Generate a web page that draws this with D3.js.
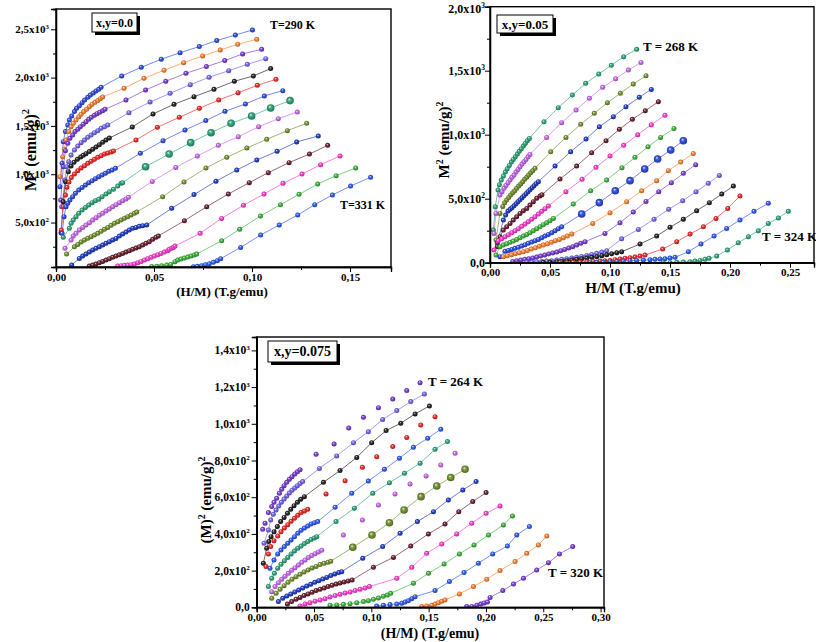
<!DOCTYPE html>
<html><head><meta charset="utf-8">
<script src="https://cdn.jsdelivr.net/npm/d3@7"></script>
<style>
body{margin:0;background:#fff}
text{font-family:"Liberation Serif","Times New Roman",serif;font-weight:bold;fill:#000}
</style></head>
<body><svg id="c" width="816" height="642"></svg>
<script>
// ---------------- Panel 1 : x,y = 0.0 ----------------
const P1_XTICKS=[0,0.05,0.10,0.15];
const P1_XLABELS=["0,00","0,05","0,10","0,15"];
const P1_YTICKS=[500,1000,1500,2000,2500];
const P1_YLABELS=["5,0x10^2","1,0x10^3","1,5x10^3","2,0x10^3","2,5x10^3"];
const p1_290=[[0.0020,871],[0.0031,1113],[0.0037,1337],[0.0048,1441],[0.0060,1510],[0.0068,1561],[0.0080,1603],[0.0094,1648],[0.0105,1682],[0.0119,1710],[0.0133,1741],[0.0146,1768],[0.0162,1796],[0.0175,1820],[0.0190,1841],[0.0204,1862],[0.0218,1879],[0.0230,1900],[0.0335,2017],[0.0435,2107],[0.0537,2190],[0.0633,2258],[0.0731,2321],[0.0820,2383],[0.0915,2441],[0.1002,2493]];
const p1_b=[[0.0020,975],[0.0034,1182],[0.0043,1258],[0.0051,1354],[0.0065,1441],[0.0077,1492],[0.0088,1527],[0.0102,1561],[0.0116,1596],[0.0128,1620],[0.0141,1648],[0.0156,1672],[0.0170,1699],[0.0184,1724],[0.0199,1744],[0.0213,1762],[0.0226,1782],[0.0238,1800],[0.0347,1889],[0.0449,1993],[0.0551,2076],[0.0651,2155],[0.0748,2224],[0.0838,2286],[0.0927,2345],[0.1024,2396]];
const p1_c=[[0.0024,733],[0.0037,1078],[0.0048,1244],[0.0060,1320],[0.0071,1372],[0.0085,1406],[0.0097,1441],[0.0111,1465],[0.0124,1492],[0.0139,1517],[0.0153,1544],[0.0167,1568],[0.0180,1589],[0.0196,1610],[0.0209,1627],[0.0223,1641],[0.0238,1658],[0.0250,1672],[0.0357,1768],[0.0457,1872],[0.0560,1962],[0.0663,2045],[0.0767,2114],[0.0861,2176],[0.0952,2245],[0.1049,2293]];
const p1_d=[[0.0029,664],[0.0046,940],[0.0054,1078],[0.0065,1130],[0.0077,1199],[0.0094,1251],[0.0111,1292],[0.0128,1327],[0.0145,1354],[0.0162,1382],[0.0179,1406],[0.0196,1430],[0.0213,1451],[0.0230,1475],[0.0247,1492],[0.0264,1510],[0.0372,1637],[0.0480,1748],[0.0582,1837],[0.0685,1927],[0.0781,2003],[0.0881,2072],[0.0976,2138],[0.1070,2196]];
const p1_e=[[0.0026,395],[0.0037,716],[0.0049,923],[0.0063,1027],[0.0077,1085],[0.0092,1123],[0.0109,1154],[0.0126,1178],[0.0139,1196],[0.0153,1213],[0.0170,1234],[0.0187,1258],[0.0204,1282],[0.0221,1306],[0.0238,1330],[0.0255,1354],[0.0272,1375],[0.0389,1489],[0.0495,1624],[0.0602,1724],[0.0704,1803],[0.0806,1879],[0.0910,1962],[0.1007,2017],[0.1095,2093]];
const p1_f=[[0.0027,423],[0.0037,664],[0.0048,785],[0.0056,865],[0.0066,920],[0.0078,965],[0.0094,1002],[0.0111,1037],[0.0128,1065],[0.0145,1089],[0.0162,1113],[0.0179,1134],[0.0196,1154],[0.0213,1175],[0.0230,1192],[0.0247,1210],[0.0264,1220],[0.0281,1230],[0.0293,1241],[0.0408,1354],[0.0517,1486],[0.0629,1589],[0.0731,1682],[0.0830,1768],[0.0929,1844],[0.1027,1920],[0.1122,1982]];
const p1_g=[[0.0031,388],[0.0041,561],[0.0051,664],[0.0060,699],[0.0071,733],[0.0085,768],[0.0099,802],[0.0116,837],[0.0133,864],[0.0150,889],[0.0167,913],[0.0184,933],[0.0201,954],[0.0218,975],[0.0235,992],[0.0252,1009],[0.0269,1030],[0.0286,1044],[0.0303,1061],[0.0430,1216],[0.0546,1347],[0.0658,1458],[0.0764,1555],[0.0862,1651],[0.0966,1727],[0.1063,1810],[0.1157,1865]];
const p1_h=[[0.0037,347],[0.0068,440],[0.0077,492],[0.0088,526],[0.0102,561],[0.0116,595],[0.0133,630],[0.0150,657],[0.0167,682],[0.0184,706],[0.0201,726],[0.0218,740],[0.0235,768],[0.0255,795],[0.0272,820],[0.0293,844],[0.0315,878],[0.0332,906],[0.0340,913],[0.0457,1078],[0.0577,1209],[0.0687,1327],[0.0791,1430],[0.0893,1527],[0.0998,1603],[0.1095,1686],[0.1194,1762]];
const p1_i=[[0.0046,233],[0.0077,319],[0.0088,361],[0.0102,388],[0.0119,423],[0.0136,450],[0.0153,475],[0.0170,499],[0.0187,526],[0.0204,550],[0.0221,575],[0.0238,595],[0.0255,619],[0.0272,640],[0.0289,664],[0.0306,685],[0.0323,706],[0.0340,726],[0.0357,744],[0.0369,761],[0.0491,926],[0.0611,1071],[0.0721,1189],[0.0828,1299],[0.0930,1389],[0.1034,1492],[0.1134,1575],[0.1231,1644]];
const p1_j=[[0.0054,174],[0.0094,250],[0.0111,274],[0.0128,299],[0.0145,319],[0.0162,337],[0.0179,354],[0.0196,371],[0.0213,388],[0.0230,409],[0.0247,430],[0.0264,450],[0.0281,471],[0.0298,492],[0.0315,509],[0.0332,526],[0.0349,544],[0.0366,561],[0.0383,578],[0.0400,595],[0.0412,609],[0.0544,768],[0.0653,920],[0.0765,1065],[0.0871,1175],[0.0974,1272],[0.1075,1361],[0.1180,1451],[0.1279,1527]];
const p1_k=[[0.0080,60],[0.0119,129],[0.0136,154],[0.0153,174],[0.0170,195],[0.0187,216],[0.0204,233],[0.0221,250],[0.0238,267],[0.0255,285],[0.0272,302],[0.0289,319],[0.0306,336],[0.0323,361],[0.0340,381],[0.0357,402],[0.0374,423],[0.0391,440],[0.0408,450],[0.0425,461],[0.0442,468],[0.0463,475],[0.0590,647],[0.0704,789],[0.0816,927],[0.0922,1044],[0.1024,1147],[0.1128,1237],[0.1228,1334],[0.1338,1396]];
const p1_l=[[0.0170,50],[0.0187,60],[0.0204,71],[0.0221,85],[0.0238,98],[0.0255,112],[0.0272,126],[0.0289,140],[0.0306,154],[0.0323,167],[0.0340,181],[0.0357,195],[0.0374,209],[0.0391,223],[0.0408,236],[0.0425,250],[0.0442,267],[0.0459,285],[0.0476,302],[0.0493,326],[0.0510,347],[0.0522,361],[0.0655,519],[0.0769,664],[0.0879,795],[0.0986,913],[0.1083,1016],[0.1189,1120],[0.1293,1209],[0.1386,1299]];
const p1_m=[[0.0315,50],[0.0332,53],[0.0349,57],[0.0366,60],[0.0383,64],[0.0400,71],[0.0417,85],[0.0434,98],[0.0451,112],[0.0468,126],[0.0485,140],[0.0502,154],[0.0519,167],[0.0536,181],[0.0553,195],[0.0570,209],[0.0578,223],[0.0590,233],[0.0599,243],[0.0607,257],[0.0735,388],[0.0845,543],[0.0956,678],[0.1061,795],[0.1158,906],[0.1255,1002],[0.1350,1099],[0.1449,1189]];
const p1_n=[[0.0488,45],[0.0514,47],[0.0539,53],[0.0565,60],[0.0585,67],[0.0607,95],[0.0621,112],[0.0638,122],[0.0655,133],[0.0672,143],[0.0689,154],[0.0706,164],[0.0718,174],[0.0845,312],[0.0937,430],[0.1043,568],[0.1145,685],[0.1240,792],[0.1335,899],[0.1429,985],[0.1529,1065]];
const p1_331=[[0.0701,43],[0.0721,47],[0.0742,53],[0.0762,64],[0.0782,74],[0.0803,88],[0.0823,105],[0.0840,126],[0.0942,243],[0.1044,371],[0.1139,475],[0.1233,578],[0.1320,685],[0.1410,785],[0.1503,878],[0.1605,968]];

// ---------------- Panel 2 : x,y = 0.05 ----------------
const P2_XTICKS=[0,0.05,0.10,0.15,0.20,0.25];
const P2_XLABELS=["0,00","0,05","0,10","0,15","0,20","0,25"];
const P2_YTICKS=[0,500,1000,1500,2000];
const P2_YLABELS=["0,0","5,0x10^2","1,0x10^3","1,5x10^3","2,0x10^3"];
const p2_268=[[0.0028,255],[0.0044,437],[0.0067,568],[0.0078,609],[0.0094,646],[0.0111,677],[0.0128,708],[0.0144,734],[0.0161,760],[0.0178,786],[0.0194,807],[0.0211,828],[0.0228,849],[0.0244,870],[0.0261,891],[0.0278,911],[0.0294,932],[0.0311,953],[0.0328,971],[0.0450,1101],[0.0569,1211],[0.0686,1310],[0.0797,1401],[0.0906,1474],[0.1011,1542],[0.1114,1609],[0.1222,1667]];
const p2_b=[[0.0033,229],[0.0050,385],[0.0083,529],[0.0100,555],[0.0117,581],[0.0133,604],[0.0150,625],[0.0167,646],[0.0183,667],[0.0200,685],[0.0217,708],[0.0233,729],[0.0250,750],[0.0267,771],[0.0283,789],[0.0300,807],[0.0317,828],[0.0333,846],[0.0472,979],[0.0597,1094],[0.0717,1193],[0.0828,1284],[0.0939,1370],[0.1047,1437],[0.1153,1505],[0.1258,1565]];
const p2_c=[[0.0050,177],[0.0083,385],[0.0106,440],[0.0122,468],[0.0139,490],[0.0156,510],[0.0172,529],[0.0189,547],[0.0206,562],[0.0222,581],[0.0239,599],[0.0256,615],[0.0272,633],[0.0289,651],[0.0306,667],[0.0322,685],[0.0339,703],[0.0356,719],[0.0375,737],[0.0506,867],[0.0633,979],[0.0756,1081],[0.0869,1167],[0.0978,1250],[0.1086,1323],[0.1194,1396],[0.1300,1461]];
const p2_d=[[0.0061,151],[0.0111,333],[0.0130,372],[0.0150,404],[0.0167,417],[0.0183,430],[0.0200,445],[0.0217,461],[0.0233,477],[0.0250,492],[0.0267,508],[0.0283,523],[0.0300,539],[0.0317,555],[0.0333,570],[0.0350,586],[0.0367,602],[0.0383,617],[0.0403,633],[0.0542,755],[0.0672,867],[0.0800,966],[0.0911,1062],[0.1028,1141],[0.1133,1219],[0.1244,1292],[0.1344,1354]];
const p2_e=[[0.0061,125],[0.0083,203],[0.0111,255],[0.0139,281],[0.0167,307],[0.0194,333],[0.0222,359],[0.0250,385],[0.0278,406],[0.0306,424],[0.0333,450],[0.0361,477],[0.0389,503],[0.0417,521],[0.0433,531],[0.0583,654],[0.0722,755],[0.0847,859],[0.0967,953],[0.1078,1042],[0.1186,1120],[0.1294,1187],[0.1403,1258]];
const p2_f=[[0.0033,99],[0.0069,172],[0.0097,187],[0.0125,203],[0.0153,219],[0.0181,234],[0.0208,250],[0.0236,266],[0.0264,284],[0.0292,302],[0.0319,320],[0.0347,339],[0.0375,359],[0.0403,380],[0.0431,401],[0.0458,422],[0.0486,443],[0.0633,555],[0.0767,651],[0.0883,745],[0.1000,833],[0.1114,917],[0.1231,1000],[0.1344,1078],[0.1458,1151]];
const p2_g=[[0.0050,60],[0.0083,125],[0.0111,138],[0.0139,148],[0.0167,159],[0.0194,169],[0.0222,182],[0.0250,195],[0.0278,208],[0.0306,221],[0.0333,234],[0.0361,250],[0.0389,266],[0.0417,281],[0.0444,297],[0.0472,312],[0.0500,328],[0.0528,346],[0.0694,458],[0.0839,562],[0.0972,646],[0.1100,742],[0.1208,823],[0.1317,906],[0.1422,979],[0.1533,1049]];
const p2_h=[[0.0083,47],[0.0125,89],[0.0153,96],[0.0181,104],[0.0208,112],[0.0236,120],[0.0264,130],[0.0292,141],[0.0319,151],[0.0347,161],[0.0375,172],[0.0403,182],[0.0431,195],[0.0458,208],[0.0486,221],[0.0514,234],[0.0542,250],[0.0569,266],[0.0597,281],[0.0764,380],[0.0911,469],[0.1044,562],[0.1167,641],[0.1289,732],[0.1397,810],[0.1506,880],[0.1611,953]];
const p2_i=[[0.0111,47],[0.0144,55],[0.0178,62],[0.0211,70],[0.0244,78],[0.0278,86],[0.0311,96],[0.0344,107],[0.0378,117],[0.0411,128],[0.0444,138],[0.0478,148],[0.0511,159],[0.0544,172],[0.0578,182],[0.0611,195],[0.0644,208],[0.0681,224],[0.0856,307],[0.1000,391],[0.1139,477],[0.1264,562],[0.1389,641],[0.1486,719],[0.1589,786],[0.1694,854]];
const p2_j=[[0.0189,10],[0.0222,16],[0.0256,21],[0.0289,26],[0.0322,31],[0.0356,36],[0.0389,44],[0.0422,52],[0.0456,60],[0.0489,68],[0.0522,76],[0.0556,83],[0.0589,94],[0.0622,104],[0.0656,115],[0.0689,125],[0.0722,138],[0.0756,151],[0.0792,164],[0.0958,229],[0.1083,312],[0.1194,396],[0.1300,479],[0.1406,555],[0.1511,625],[0.1611,698],[0.1714,766]];
const p2_k=[[0.0306,3],[0.0347,5],[0.0389,8],[0.0431,10],[0.0472,13],[0.0514,16],[0.0556,21],[0.0597,26],[0.0639,31],[0.0681,36],[0.0722,42],[0.0764,49],[0.0806,57],[0.0847,65],[0.0889,73],[0.0931,83],[0.0972,94],[0.1097,187],[0.1236,260],[0.1367,339],[0.1489,417],[0.1606,484],[0.1717,555],[0.1819,620],[0.1911,682]];
const p2_l=[[0.0444,3],[0.0500,5],[0.0556,8],[0.0597,10],[0.0639,16],[0.0681,21],[0.0722,26],[0.0764,31],[0.0806,36],[0.0847,42],[0.0889,47],[0.0931,55],[0.0972,62],[0.1014,70],[0.1056,78],[0.1097,86],[0.1250,146],[0.1389,208],[0.1500,276],[0.1611,339],[0.1722,406],[0.1828,469],[0.1931,536],[0.2028,599]];
const p2_m=[[0.0583,0],[0.0639,0],[0.0694,3],[0.0750,5],[0.0806,8],[0.0861,10],[0.0917,13],[0.0958,16],[0.1000,18],[0.1042,23],[0.1083,29],[0.1125,34],[0.1167,39],[0.1208,44],[0.1250,52],[0.1292,60],[0.1439,107],[0.1556,164],[0.1667,224],[0.1778,281],[0.1883,346],[0.1981,424],[0.2083,521]];
const p2_n=[[0.0833,0],[0.0889,3],[0.0944,5],[0.1000,8],[0.1056,10],[0.1111,13],[0.1167,16],[0.1222,18],[0.1278,21],[0.1333,23],[0.1375,26],[0.1417,29],[0.1458,31],[0.1500,36],[0.1542,42],[0.1653,86],[0.1758,146],[0.1867,208],[0.1972,268],[0.2083,333],[0.2200,401],[0.2319,464]];
const p2_324=[[0.1444,0],[0.1500,0],[0.1556,3],[0.1611,5],[0.1667,8],[0.1708,13],[0.1750,18],[0.1792,26],[0.1825,34],[0.1889,52],[0.1978,99],[0.2069,156],[0.2153,203],[0.2236,250],[0.2319,307],[0.2403,349],[0.2486,401]];

// ---------------- Panel 3 : x,y = 0.075 ----------------
const P3_XTICKS=[0,0.05,0.10,0.15,0.20,0.25,0.30];
const P3_XLABELS=["0,00","0,05","0,10","0,15","0,20","0,25","0,30"];
const P3_YTICKS=[0,200,400,600,800,1000,1200,1400];
const P3_YLABELS=["0,0","2,0x10^2","4,0x10^2","6,0x10^2","8,0x10^2","1,0x10^3","1,2x10^3","1,4x10^3"];
const p3_264=[[0.0052,425],[0.0073,458],[0.0102,516],[0.0131,549],[0.0151,572],[0.0174,594],[0.0198,621],[0.0218,643],[0.0239,663],[0.0262,681],[0.0285,698],[0.0308,712],[0.0332,727],[0.0355,739],[0.0378,750],[0.0518,834],[0.0675,890],[0.0803,977],[0.0931,1035],[0.1062,1088],[0.1187,1135],[0.1309,1181],[0.1425,1224]];
const p3_b=[[0.0064,349],[0.0102,421],[0.0122,476],[0.0145,507],[0.0169,530],[0.0192,552],[0.0215,572],[0.0239,590],[0.0262,607],[0.0285,623],[0.0308,638],[0.0332,650],[0.0355,663],[0.0378,674],[0.0401,685],[0.0547,757],[0.0698,825],[0.0844,897],[0.0974,957],[0.1099,1024],[0.1222,1072],[0.1344,1121],[0.1463,1163]];
const p3_c=[[0.0058,240],[0.0087,322],[0.0105,358],[0.0125,385],[0.0151,412],[0.0180,440],[0.0209,467],[0.0239,490],[0.0268,512],[0.0297,534],[0.0326,554],[0.0355,572],[0.0384,589],[0.0416,603],[0.0582,681],[0.0727,745],[0.0873,817],[0.1003,897],[0.1129,963],[0.1257,1003],[0.1382,1054],[0.1507,1097]];
const p3_d=[[0.0081,222],[0.0102,291],[0.0122,331],[0.0151,363],[0.0183,389],[0.0212,412],[0.0241,432],[0.0271,450],[0.0300,469],[0.0329,485],[0.0358,501],[0.0387,516],[0.0416,525],[0.0445,534],[0.0605,618],[0.0771,690],[0.0922,763],[0.1047,821],[0.1187,876],[0.1309,926],[0.1431,994],[0.1556,1039]];
const p3_e=[[0.0116,213],[0.0151,258],[0.0183,291],[0.0212,312],[0.0241,331],[0.0271,349],[0.0300,367],[0.0329,385],[0.0358,403],[0.0387,420],[0.0416,432],[0.0445,443],[0.0474,454],[0.0503,461],[0.0532,467],[0.0684,545],[0.0829,621],[0.0974,688],[0.1114,752],[0.1245,812],[0.1367,872],[0.1492,921],[0.1606,970]];
const p3_f=[[0.0102,113],[0.0131,158],[0.0154,185],[0.0183,213],[0.0212,234],[0.0241,254],[0.0271,272],[0.0300,291],[0.0329,307],[0.0358,322],[0.0387,334],[0.0416,347],[0.0445,358],[0.0474,369],[0.0503,378],[0.0524,385],[0.0692,467],[0.0852,540],[0.1012,621],[0.1158,679],[0.1289,730],[0.1425,785],[0.1556,861],[0.1664,903]];
const p3_g=[[0.0131,85],[0.0160,113],[0.0189,134],[0.0218,153],[0.0247,169],[0.0276,185],[0.0305,202],[0.0334,216],[0.0364,231],[0.0393,245],[0.0422,258],[0.0451,271],[0.0480,282],[0.0509,292],[0.0538,302],[0.0567,311],[0.0756,394],[0.0922,476],[0.1062,558],[0.1207,618],[0.1338,672],[0.1478,716],[0.1606,776],[0.1731,839]];
const p3_h=[[0.0131,49],[0.0169,76],[0.0204,98],[0.0239,118],[0.0273,136],[0.0308,153],[0.0343,167],[0.0378,180],[0.0413,193],[0.0448,203],[0.0483,214],[0.0518,223],[0.0553,233],[0.0588,240],[0.0622,245],[0.0646,251],[0.0838,327],[0.1006,394],[0.1158,461],[0.1286,530],[0.1434,603],[0.1571,661],[0.1693,707],[0.1818,752]];
const p3_i=[[0.0189,31],[0.0227,49],[0.0262,62],[0.0297,73],[0.0332,84],[0.0366,94],[0.0401,105],[0.0436,116],[0.0471,125],[0.0506,136],[0.0541,145],[0.0576,154],[0.0611,163],[0.0646,173],[0.0681,182],[0.0716,189],[0.0742,194],[0.0925,267],[0.1099,331],[0.1251,403],[0.1402,467],[0.1542,521],[0.1672,585],[0.1798,639],[0.1914,685]];
const p3_j=[[0.0268,18],[0.0305,31],[0.0343,44],[0.0378,54],[0.0413,64],[0.0448,73],[0.0483,82],[0.0518,91],[0.0553,98],[0.0588,105],[0.0622,113],[0.0657,120],[0.0692,127],[0.0727,133],[0.0762,138],[0.0797,144],[0.0832,149],[0.1018,218],[0.1193,272],[0.1344,334],[0.1498,400],[0.1643,454],[0.1763,521],[0.1885,576],[0.2001,625]];
const p3_k=[[0.0378,7],[0.0422,18],[0.0465,25],[0.0509,33],[0.0553,40],[0.0596,47],[0.0640,56],[0.0684,64],[0.0727,71],[0.0771,78],[0.0815,84],[0.0858,91],[0.0902,98],[0.0945,105],[0.0983,113],[0.1222,158],[0.1353,218],[0.1483,294],[0.1614,345],[0.1745,400],[0.1876,458],[0.2001,512],[0.2123,552]];
const p3_l=[[0.0640,11],[0.0698,13],[0.0756,16],[0.0814,20],[0.0873,25],[0.0931,31],[0.0974,36],[0.1018,44],[0.1062,51],[0.1105,60],[0.1140,67],[0.1169,76],[0.1367,131],[0.1498,185],[0.1635,236],[0.1768,291],[0.1896,340],[0.2022,394],[0.2152,449],[0.2231,498]];
const p3_m=[[0.1047,7],[0.1105,11],[0.1163,15],[0.1222,18],[0.1265,22],[0.1294,29],[0.1323,36],[0.1353,47],[0.1382,58],[0.1556,91],[0.1681,140],[0.1809,189],[0.1934,240],[0.2059,291],[0.2187,334],[0.2269,394],[0.2379,440]];
const p3_n=[[0.1440,4],[0.1483,7],[0.1527,11],[0.1556,18],[0.1585,25],[0.1614,33],[0.1643,40],[0.1768,73],[0.1891,113],[0.2007,153],[0.2123,200],[0.2254,249],[0.2356,294],[0.2458,340],[0.2531,389]];
const p3_320=[[0.1832,4],[0.1876,5],[0.1920,11],[0.1955,18],[0.1984,24],[0.2013,29],[0.2036,54],[0.2147,91],[0.2240,127],[0.2327,158],[0.2443,203],[0.2545,243],[0.2641,291],[0.2757,331]];

// ---------------- drawing ----------------
const svg=d3.select("#c");
const defs=svg.append("defs");
const gradCache={};
function grad(c){
  if(gradCache[c])return gradCache[c];
  const id="g"+c.replace("#","");
  const g=defs.append("radialGradient").attr("id",id).attr("cx","50%").attr("cy","50%").attr("r","55%").attr("fx","38%").attr("fy","32%");
  g.append("stop").attr("offset","0%").attr("stop-color",d3.interpolateRgb(c,"#fff")(0.9));
  g.append("stop").attr("offset","35%").attr("stop-color",d3.interpolateRgb(c,"#fff")(0.15));
  g.append("stop").attr("offset","100%").attr("stop-color",d3.interpolateRgb(c,"#000")(0.3));
  gradCache[c]="url(#"+id+")";
  return gradCache[c];
}
function supText(sel,str,fs){
  const parts=str.split("^");
  sel.text(null);
  sel.append("tspan").text(parts[0]);
  if(parts[1]) sel.append("tspan").attr("font-size",fs*0.62).attr("dy",-fs*0.4).text(parts[1]);
}
function panel(o){
  const g=svg.append("g");
  const x=d3.scaleLinear().domain(o.xd).range([o.l,o.r]);
  const y=d3.scaleLinear().domain(o.yd).range([o.b,o.t]);
  const clipId="clip"+o.id;
  defs.append("clipPath").attr("id",clipId).append("rect").attr("x",o.l).attr("y",o.t).attr("width",o.r-o.l).attr("height",o.b-o.t);
  const pg=g.append("g").attr("clip-path","url(#"+clipId+")");
  const line=d3.line().x(d=>x(d[0])).y(d=>y(d[1]));
  o.series.forEach(s=>{
    if(s.line!==false){
      pg.append("path").datum(s.data).attr("d",line).attr("fill","none")
        .attr("stroke",d3.interpolateRgb(s.c,"#fff")(0.3)).attr("stroke-width",0.9);
    }
  });
  o.series.forEach(s=>{
    pg.selectAll(null).data(s.data).join("circle")
      .attr("cx",d=>x(d[0])).attr("cy",d=>y(d[1]))
      .attr("r",(d,i)=>(s.big!=null&&i>=s.big)?s.rb:(s.r||o.r0))
      .attr("fill",grad(s.c));
  });
  // axes
  const xa=g.append("g").attr("transform","translate(0,"+o.b+")")
    .call(d3.axisBottom(x).tickValues(o.xt).tickFormat((d,i)=>o.xl[i]).tickSize(5).tickPadding(1));
  xa.selectAll("text").attr("font-size",o.tfx).attr("font-family","Liberation Serif").attr("font-weight","bold");
  g.append("g").attr("transform","translate(0,"+o.b+")")
    .call(d3.axisBottom(x).tickValues(o.xm).tickFormat("").tickSize(3));
  g.append("g").attr("transform","translate("+o.l+",0)")
    .call(d3.axisLeft(y).tickValues(o.yt).tickFormat("").tickSize(5));
  g.append("g").attr("transform","translate("+o.l+",0)")
    .call(d3.axisLeft(y).tickValues(o.ym).tickFormat("").tickSize(3));
  o.yt.forEach((v,i)=>{
    const py=Math.max(y(v),o.t+2);
    const t=g.append("text").attr("x",o.l-o.ypad).attr("y",py).attr("dy","0.35em")
      .attr("text-anchor","end").attr("font-size",o.tfy);
    supText(t,o.yl[i],o.tfy);
  });
  g.selectAll(".domain").attr("stroke-width",1.3);
  g.selectAll(".tick line").attr("stroke-width",1);
  g.append("rect").attr("x",o.l).attr("y",o.t).attr("width",o.r-o.l).attr("height",o.b-o.t)
    .attr("fill","none").attr("stroke","#000").attr("stroke-width",1.4);
  // legend box
  const bx=o.box;
  g.append("rect").attr("x",bx[0]+3).attr("y",bx[1]+3).attr("width",bx[2]).attr("height",bx[3]).attr("fill","#000");
  g.append("rect").attr("x",bx[0]).attr("y",bx[1]).attr("width",bx[2]).attr("height",bx[3]).attr("fill","#fff").attr("stroke","#000").attr("stroke-width",1);
  g.append("text").attr("x",bx[0]+bx[2]/2).attr("y",bx[1]+bx[3]/2).attr("dy","0.35em").attr("text-anchor","middle").attr("font-size",bx[4]).text(o.boxText);
  o.notes.forEach(n=>g.append("text").attr("x",n[0]).attr("y",n[1]).attr("font-size",n[2]).text(n[3]));
  // axis titles
  g.append("text").attr("x",o.xtitle[0]).attr("y",o.xtitle[1]).attr("text-anchor","middle").attr("font-size",o.xtitle[2]).text(o.xtitle[3]);
  const yt=g.append("text").attr("transform","translate("+o.ytitle[0]+","+o.ytitle[1]+") rotate(-90)")
    .attr("text-anchor","middle").attr("font-size",o.ytitle[2]);
  o.ytitle[3].forEach(p=>{
    if(p.s) yt.append("tspan").attr("font-size",o.ytitle[2]*0.65).attr("dy",-o.ytitle[2]*0.4).text(p.t);
    else yt.append("tspan").attr("dy",p.d||0).text(p.t);
  });
}
const M2=[{t:"M"},{t:"2",s:1},{t:" (emu/g)",d:6},{t:"2",s:1}];
const M2b=[{t:"(M)"},{t:"2",s:1},{t:" (emu/g)",d:6},{t:"2",s:1}];

panel({id:1,l:56,r:391,t:9,b:267,xd:[0,0.1709],yd:[40,2710],r0:2.5,
  xt:P1_XTICKS,xl:P1_XLABELS,xm:[0.025,0.075,0.125],yt:P1_YTICKS,yl:P1_YLABELS,ym:[250,750,1250,1750,2250],
  tfx:11,tfy:11,ypad:7,
  series:[
    {data:p1_290,c:"#1f3fe0"},{data:p1_b,c:"#ff7a22"},{data:p1_c,c:"#7030d0"},{data:p1_d,c:"#6a5cf0"},
    {data:p1_e,c:"#111111"},{data:p1_f,c:"#f01818"},{data:p1_g,c:"#2040e0"},{data:p1_h,c:"#20a070",big:19,rb:3.8},
    {data:p1_i,c:"#c860f0"},{data:p1_j,c:"#6a8a20"},{data:p1_k,c:"#1030c0"},{data:p1_l,c:"#5e1020"},
    {data:p1_m,c:"#ff30d0"},{data:p1_n,c:"#30b030"},{data:p1_331,c:"#2050f0"}],
  box:[92,13,45,19,12],boxText:"x,y=0.0",
  notes:[[270,29,12,"T=290 K"],[340,209,12,"T=331 K"]],
  xtitle:[222,296,13,"(H/M) (T.g/emu)"],ytitle:[36,150,16,M2]});

panel({id:2,l:490,r:814,t:6.7,b:262.7,xd:[0,0.27],yd:[0,2000],r0:2.5,
  xt:P2_XTICKS,xl:P2_XLABELS,xm:[0.025,0.075,0.125,0.175,0.225],yt:P2_YTICKS,yl:P2_YLABELS,ym:[250,750,1250,1750],
  tfx:11,tfy:12,ypad:5,
  series:[
    {data:p2_268,c:"#20a070"},{data:p2_b,c:"#c860f0"},{data:p2_c,c:"#6a8a20"},{data:p2_d,c:"#1030c0"},
    {data:p2_e,c:"#5e1020"},{data:p2_f,c:"#ff30d0"},{data:p2_g,c:"#30b030"},{data:p2_h,c:"#2040e0",big:19,rb:3.8},
    {data:p2_i,c:"#ff7a22"},{data:p2_j,c:"#7030d0"},{data:p2_k,c:"#6a5cf0"},{data:p2_l,c:"#111111"},
    {data:p2_m,c:"#f01818"},{data:p2_n,c:"#2050f0"},{data:p2_324,c:"#20a070"}],
  box:[497,15,56,18,13],boxText:"x,y=0.05",
  notes:[[643,51,13,"T = 268 K"],[762,241,13,"T = 324 K"]],
  xtitle:[633,293,15,"H/M (T.g/emu)"],ytitle:[449,140,15,M2]});

panel({id:3,l:256.7,r:604,t:337,b:607.3,xd:[0,0.303],yd:[0,1473],r0:2.5,
  xt:P3_XTICKS,xl:P3_XLABELS,xm:[0.025,0.075,0.125,0.175,0.225,0.275],yt:P3_YTICKS,yl:P3_YLABELS,ym:[100,300,500,700,900,1100,1300],
  tfx:11,tfy:11.5,ypad:7,
  series:[
    {data:p3_264,c:"#7030d0",line:false},{data:p3_b,c:"#6a5cf0"},{data:p3_c,c:"#111111"},{data:p3_d,c:"#f01818",line:false},
    {data:p3_e,c:"#2050f0"},{data:p3_f,c:"#20a070"},{data:p3_g,c:"#c860f0",line:false},{data:p3_h,c:"#6a8a20",big:16,rb:3.8},
    {data:p3_i,c:"#1030c0"},{data:p3_j,c:"#5e1020"},{data:p3_k,c:"#ff30d0"},{data:p3_l,c:"#30b030"},
    {data:p3_m,c:"#2050f0"},{data:p3_n,c:"#ff7a22"},{data:p3_320,c:"#7030d0"}],
  box:[268,341,69,21,14],boxText:"x,y=0.075",
  notes:[[428,386,13,"T = 264 K"],[548,577,13,"T = 320 K"]],
  xtitle:[430,638,14,"(H/M) (T.g/emu)"],ytitle:[211,500,15,M2b]});
</script>
</body></html>
